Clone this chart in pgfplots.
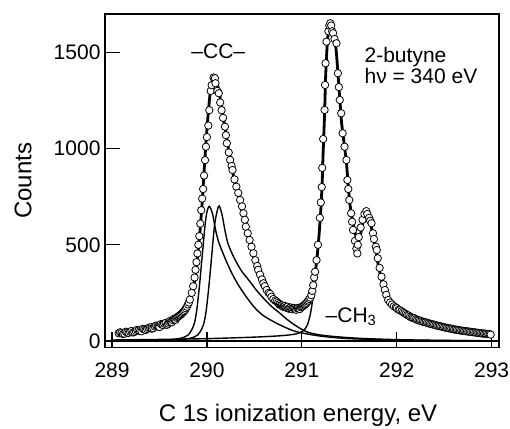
\documentclass[border=0pt]{standalone}
\usepackage{fontspec}
\setmainfont{Liberation Sans}
\usepackage{pgfplots}
\pgfplotsset{compat=1.18}
\begin{document}
\begin{tikzpicture}
\useasboundingbox (-105pt,-80.5pt) rectangle (405pt,347.5pt);
\begin{axis}[
 scale only axis, width=394pt, height=333.5pt,
 at={(0pt,0pt)}, anchor=south west,
 xmin=288.926, xmax=293.078, ymin=-34, ymax=1700,
 xtick={289,290,291,292,293}, ytick={0,500,1000,1500},
 tick align=inside, xtick pos=bottom, ytick pos=left,
 major tick length=15pt,
 tick style={line width=1.2pt, black},
 axis line style={line width=1.2pt},
 /pgf/number format/assume math mode=true,
 /pgf/number format/1000 sep={},
 ticklabel style={font=\fontsize{21}{25}\selectfont},
 xticklabel style={anchor=base, yshift=-30pt},
 yticklabel style={xshift=-1pt},
 xlabel={C 1s ionization energy, eV},
 ylabel={Counts},
 label style={font=\fontsize{24}{29}\selectfont},
 xlabel style={at={(axis description cs:0.49,-0.2204)}, anchor=base},
 ylabel style={at={(axis description cs:-0.208,0.5)}, anchor=center},
 clip=true,
]
% baseline
\addplot[black, line width=1.1pt] coordinates {(288.926,0) (293.078,0)};
% component A
\addplot[black, line width=1.4pt, smooth] coordinates {
(289.3,1) (289.5,3) (289.7,12) (289.8,30) (289.86,80) (289.89,150) (289.92,280) (289.95,440) (289.98,600) (290.00,670) (290.025,700) (290.06,660) (290.09,580) (290.12,520) (290.15,480) (290.2,420) (290.25,365) (290.32,300) (290.4,240) (290.5,175) (290.6,130) (290.75,88) (290.9,55) (291.0,42) (291.2,25) (291.5,12) (292.0,5) (292.5,2) (293.0,1)};
% component B
\addplot[black, line width=1.4pt, smooth] coordinates {
(289.4,1) (289.6,3) (289.8,12) (289.9,30) (289.96,80) (289.99,150) (290.02,280) (290.05,440) (290.08,600) (290.11,680) (290.13,702) (290.16,655) (290.19,575) (290.22,510) (290.26,460) (290.31,410) (290.37,360) (290.44,317) (290.52,265) (290.6,220) (290.68,180) (290.77,144) (290.85,110) (290.95,75) (291.05,48) (291.15,35) (291.3,25) (291.6,14) (292.0,7) (292.5,3) (293.0,1)};
% CH3 component (visible part)
\addplot[black, line width=1.4pt, smooth] coordinates {
(289.0,5) (289.5,8) (290.0,12) (290.5,20) (290.8,28) (290.95,38) (291.02,55) (291.06,85) (291.09,140) (291.11,200) (291.13,290) (291.15,385) (291.17,485) (291.19,610)};
% fit
\addplot[black, line width=2.8pt, smooth, tension=0.4] coordinates {
(289.05,38) (289.2,48) (289.3,56) (289.4,66) (289.5,80) (289.6,95) (289.68,115) (289.75,145) (289.8,185) (289.84,240) (289.87,310) (289.89,380) (289.91,480) (289.93,590) (289.95,720) (289.97,880) (289.99,1030) (290.01,1160) (290.03,1270) (290.05,1340) (290.075,1375) (290.10,1355) (290.13,1290) (290.16,1200) (290.19,1110) (290.22,1020) (290.25,930) (290.28,860) (290.31,790) (290.35,720) (290.40,620) (290.45,530) (290.50,440) (290.55,370) (290.60,305) (290.65,255) (290.70,220) (290.75,195) (290.80,180) (290.85,170) (290.90,165) (290.95,165) (291.00,168) (291.04,178) (291.07,195) (291.10,230) (291.12,280) (291.14,350) (291.16,430) (291.18,540) (291.20,680) (291.215,830) (291.225,980) (291.24,1180) (291.25,1360) (291.265,1520) (291.28,1610) (291.30,1655) (291.32,1630) (291.34,1580) (291.36,1520) (291.38,1400) (291.40,1260) (291.42,1130) (291.45,1010) (291.47,930) (291.49,800) (291.51,700) (291.54,610) (291.57,545) (291.60,520) (291.63,580) (291.66,660) (291.68,680) (291.70,660) (291.72,630) (291.75,545) (291.78,480) (291.80,410) (291.83,340) (291.86,280) (291.90,220) (291.95,185) (292.0,165) (292.1,135) (292.2,115) (292.35,90) (292.5,70) (292.7,52) (292.9,38) (292.98,34)};
% data circles
\addplot[only marks, mark=*, mark size=3.7pt, mark options={fill=white, draw=black, line width=0.8pt}] coordinates {
(289.07,40) (289.085,45) (289.10,42) (289.115,36) (289.13,38) (289.145,48) (289.16,45) (289.175,42) (289.19,48) (289.205,52) (289.22,44) (289.235,47) (289.25,52) (289.265,58) (289.28,55) (289.295,52) (289.31,50) (289.325,63) (289.34,60) (289.355,57) (289.37,62) (289.385,68) (289.40,70) (289.415,72) (289.42,64) (289.435,66) (289.45,75) (289.465,80) (289.48,78) (289.49,74) (289.50,72) (289.515,88) (289.53,85) (289.54,82) (289.55,90) (289.565,94) (289.58,84) (289.59,90) (289.60,98) (289.61,104) (289.62,100) (289.63,97) (289.64,108) (289.65,115) (289.66,112) (289.67,110) (289.68,120) (289.69,125) (289.70,128) (289.71,132) (289.72,135) (289.73,140) (289.74,145) (289.75,150) (289.76,155) (289.77,162) (289.78,170) (289.79,178) (289.80,190) (289.81,200) (289.82,215) (289.84,250) (289.855,285) (289.87,330) (289.88,370) (289.89,410) (289.90,455) (289.91,500) (289.92,545) (289.93,610) (289.94,680) (289.95,740) (289.96,790) (289.97,860) (289.98,940) (289.99,1010) (290.00,1060) (290.015,1120) (290.025,1200) (290.04,1300) (290.05,1330) (290.07,1370) (290.085,1366) (290.09,1340) (290.11,1300) (290.125,1288) (290.14,1240) (290.155,1200) (290.17,1160) (290.19,1114) (290.20,1070) (290.21,1028) (290.23,980) (290.245,941) (290.26,910) (290.27,889) (290.29,840) (290.31,802) (290.33,770) (290.35,733) (290.37,700) (290.385,664) (290.40,630) (290.41,594) (290.43,560) (290.45,525) (290.47,490) (290.49,456) (290.51,420) (290.53,390) (290.54,370) (290.56,345) (290.58,320) (290.595,300) (290.61,285) (290.63,265) (290.65,250) (290.665,245) (290.68,230) (290.70,218) (290.72,210) (290.735,205) (290.75,198) (290.76,190) (290.77,192) (290.78,186) (290.79,185) (290.80,178) (290.81,180) (290.82,182) (290.83,175) (290.84,172) (290.85,178) (290.86,168) (290.87,170) (290.88,174) (290.89,168) (290.90,165) (290.91,172) (290.92,170) (290.93,165) (290.94,162) (290.95,170) (290.96,172) (290.97,168) (290.98,166) (290.99,175) (291.00,178) (291.01,180) (291.02,185) (291.03,188) (291.04,192) (291.05,198) (291.06,205) (291.07,210) (291.08,218) (291.09,225) (291.10,238) (291.11,260) (291.12,290) (291.13,330) (291.14,360) (291.155,420) (291.17,500) (291.19,640) (291.20,720) (291.21,800) (291.215,900) (291.225,1050) (291.24,1201) (291.245,1331) (291.25,1444) (291.26,1556) (291.28,1610) (291.29,1640) (291.30,1652) (291.31,1640) (291.32,1610) (291.33,1600) (291.345,1570) (291.365,1548) (291.38,1392) (291.39,1320) (291.40,1253) (291.415,1184) (291.43,1080) (291.45,1010) (291.47,941) (291.48,837) (291.49,790) (291.50,733) (291.52,664) (291.53,620) (291.54,577) (291.56,520) (291.575,480) (291.585,455) (291.59,500) (291.60,540) (291.62,590) (291.64,630) (291.66,660) (291.68,675) (291.69,660) (291.71,640) (291.72,625) (291.735,612) (291.75,560) (291.76,530) (291.78,490) (291.79,473) (291.80,430) (291.82,380) (291.84,334) (291.86,295) (291.875,265) (291.89,240) (291.91,213) (291.93,200) (291.95,190) (291.97,180) (291.99,175) (292.00,170) (292.02,162) (292.03,160) (292.05,155) (292.065,150) (292.08,145) (292.095,140) (292.11,135) (292.125,132) (292.14,126) (292.155,122) (292.17,120) (292.185,118) (292.20,113) (292.215,110) (292.23,108) (292.245,106) (292.26,103) (292.275,100) (292.29,98) (292.305,97) (292.32,95) (292.335,92) (292.35,90) (292.365,88) (292.38,86) (292.395,85) (292.41,82) (292.425,80) (292.44,78) (292.455,77) (292.47,75) (292.485,73) (292.50,71) (292.515,70) (292.53,68) (292.545,66) (292.56,65) (292.575,64) (292.59,62) (292.605,60) (292.62,59) (292.635,58) (292.65,57) (292.665,55) (292.68,54) (292.695,53) (292.71,52) (292.725,51) (292.74,50) (292.755,49) (292.77,48) (292.785,47) (292.80,46) (292.815,45) (292.83,44) (292.845,43) (292.86,42) (292.875,41) (292.89,40) (292.905,39) (292.92,38) (292.935,38) (292.95,37) (292.965,36) (292.98,36) (292.99,33)};
\node[font=\fontsize{21}{25}\selectfont, anchor=center] at (axis cs:290.12,1508) {–CC–};
\node[font=\fontsize{21}{25}\selectfont, anchor=base west, inner sep=0pt] at (axis cs:291.66,1448) {2-butyne};
\node[font=\fontsize{21}{25}\selectfont, anchor=base west, inner sep=0pt] at (axis cs:291.66,1338) {hν = 340 eV};
\node[font=\fontsize{21}{25}\selectfont, anchor=base west, inner sep=0pt] at (axis cs:291.25,98) {–CH\textsubscript{3}};
\end{axis}
\end{tikzpicture}
\end{document}
